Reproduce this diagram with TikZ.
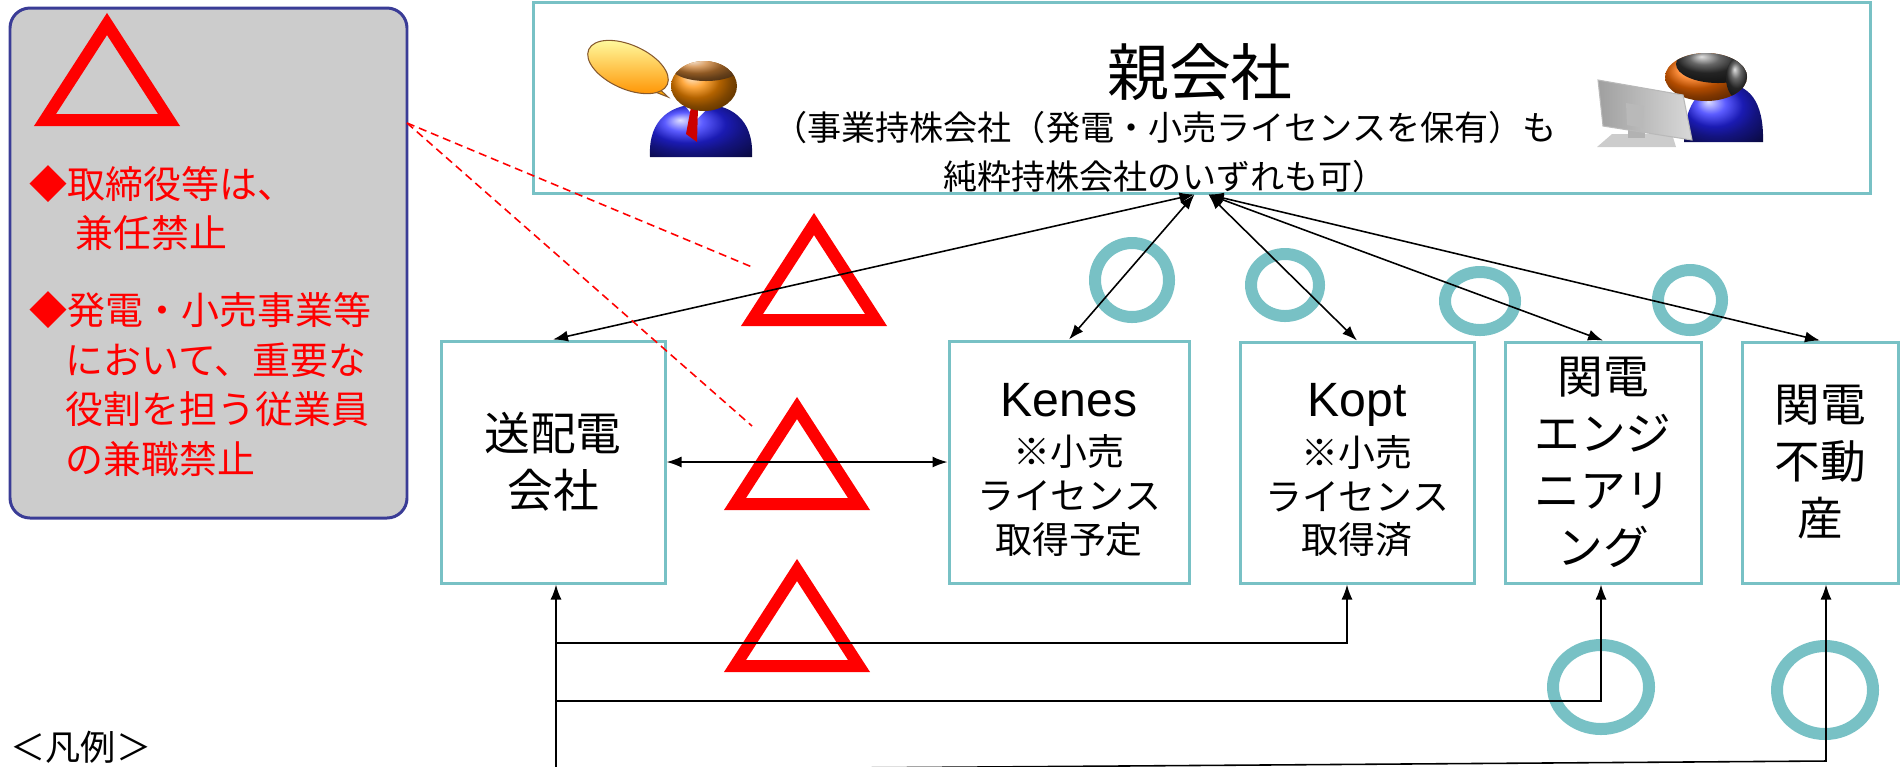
\documentclass[tikz,border=0pt]{standalone}
\usepackage{fontspec}
\setmainfont{Noto Sans CJK JP}
\newfontfamily\latinfont{Liberation Sans}
\usetikzlibrary{arrows.meta}

\definecolor{boxteal}{RGB}{120,193,197}
\definecolor{legendgray}{RGB}{204,204,204}
\definecolor{legendblue}{RGB}{58,60,150}

% red warning triangle, given by the middle of its base
\newcommand{\warnmark}[1]{\draw[warn tri,shift={#1}] (0,-102) -- (62,-6) -- (-62,-6) -- cycle;}
% first line of a licence box, a little roomier on top
\newcommand{\licname}[1]{{\latinfont\fontsize{13.7pt}{16pt}\selectfont\rule{0pt}{14pt}#1}}

\begin{document}
\begin{tikzpicture}[x=0.1mm,y=-0.1mm,>=Latex,
firm box/.style={draw=boxteal,line width=0.85pt,align=center,inner sep=0pt,font=\fontsize{13pt}{16.2pt}\selectfont},
lic box/.style={firm box,font=\fontsize{10.5pt}{12.5pt}\selectfont},
link/.style={{Latex[length=1.5mm,width=1.1mm]}-{Latex[length=1.5mm,width=1.1mm]},line width=0.45pt},
feed/.style={-{Latex[length=1.5mm,width=1.1mm]},line width=0.45pt},
warn tri/.style={draw=red,line width=1.2mm,line join=miter},
ok ring/.style={draw=boxteal,line width=1.2mm},
pointer/.style={draw=red,dash pattern=on 0.8mm off 0.5mm,line width=0.45pt},
rule text/.style={text=red,align=left,inner sep=0pt,anchor=west,font=\fontsize{10.8pt}{14.2pt}\selectfont}]
\useasboundingbox (0,0) rectangle (1901,766);

% legend panel
\node[draw=legendblue,fill=legendgray,line width=0.85pt,rounded corners=2mm,minimum width=39.7mm,minimum height=51mm,inner sep=0pt] (legend) at (208.5,263) {};
\warnmark{(107,126)}
\node[rule text] (rule1) at (29,208) {◆取締役等は、\\\hspace*{1.2em}兼任禁止};
\node[rule text] (rule2) at (29,384) {◆発電・小売事業等\\\hspace*{0.95em}において、重要な\\\hspace*{0.95em}役割を担う従業員\\\hspace*{0.95em}の兼職禁止};
\node[anchor=west,inner sep=0pt,font=\fontsize{10pt}{12pt}\selectfont] (hanrei) at (10,747) {＜凡例＞};

% marks on the links
\warnmark{(814,326)}
\warnmark{(797,510)}
\warnmark{(797,672)}
\draw[ok ring] (1132,280) ellipse [x radius=3.7mm,y radius=3.7mm];
\draw[ok ring] (1285,285) ellipse [x radius=3.4mm,y radius=3.1mm];
\draw[ok ring] (1480,301) ellipse [x radius=3.5mm,y radius=2.9mm];
\draw[ok ring] (1690,300) ellipse [x radius=3.2mm,y radius=3.0mm];
\draw[ok ring] (1601,687) ellipse [x radius=4.8mm,y radius=4.2mm];
\draw[ok ring] (1825,690) ellipse [x radius=4.8mm,y radius=4.4mm];

% holding company
\node[firm box,minimum width=133.7mm,minimum height=19.1mm] (oya) at (1201.5,97.5) {};
\node[font=\fontsize{17.6pt}{20pt}\selectfont] (oyaname) at (1200,72) {親会社};
\node[align=center,font=\fontsize{9.7pt}{14.2pt}\selectfont] (oyanote) at (1165,152) {（事業持株会社（発電・小売ライセンスを保有）も\\純粋持株会社のいずれも可）};

% person with speech bubble
\fill[orange!70!yellow,draw=brown!70!black,line width=0.3pt] (650,80) -- (668,97) -- (640,86) -- cycle;
\shade[top color=yellow!35!white,bottom color=orange!85!yellow,draw=brown!70!black,line width=0.3pt,rotate around={-24:(628,67)}] (628,67) ellipse [x radius=4.3mm,y radius=2.2mm];
\shade[ball color=blue!85!white] (650,157) .. controls (648,118) and (672,104) .. (701,104) .. controls (730,104) and (754,118) .. (752,157) -- cycle;
\fill[white] (684,104) -- (712,104) -- (696,120) -- cycle;
\fill[red!80!black] (691,107) -- (698,107) -- (697,142) -- (686,134) -- cycle;
\shade[ball color=orange!90!yellow] (704,86) ellipse [x radius=3.3mm,y radius=2.5mm];
\begin{scope}
\clip (704,86) ellipse [x radius=3.3mm,y radius=2.5mm];
\shade[ball color=brown!80!orange] (706,66) ellipse [x radius=3.6mm,y radius=1.5mm];
\end{scope}

% person at a monitor
\shade[ball color=blue!85!white] (1684,142) .. controls (1684,100) and (1704,84) .. (1725,84) .. controls (1748,84) and (1764,100) .. (1763,142) -- cycle;
\shade[ball color=orange!85!red] (1706,77) ellipse [x radius=4.1mm,y radius=2.4mm];
\begin{scope}
\clip (1706,77) ellipse [x radius=4.1mm,y radius=2.4mm];
\shade[ball color=black!80] (1718,64) ellipse [x radius=4.2mm,y radius=1.9mm];
\shade[ball color=black!80] (1740,78) ellipse [x radius=1.4mm,y radius=2.2mm];
\end{scope}
\fill[gray!40] (1612,134) -- (1672,134) -- (1676,147) -- (1597,147) -- cycle;
\fill[gray!60] (1628,108) rectangle (1645,138);
\shade[left color=gray!75,right color=gray!30,draw=gray!55,line width=0.3pt] (1598,80) -- (1683,95) -- (1692,140) -- (1603,126) -- cycle;
\fill[gray!55] (1626,103) -- (1644,106) -- (1643,128) -- (1627,125) -- cycle;

% subsidiaries
\node[firm box,minimum width=22.4mm,minimum height=24.2mm] (soden) at (553,462) {送配電\\会社};
\node[lic box,minimum width=24mm,minimum height=24.2mm] (kenes) at (1069,462) {\licname{Kenes}\\[1.5pt]※小売\\ライセンス\\取得予定};
\node[lic box,minimum width=23.4mm,minimum height=24.1mm] (kopt) at (1357,462.5) {\licname{Kopt}\\[1.5pt]※小売\\ライセンス\\取得済};
\node[firm box,minimum width=19.6mm,minimum height=24.1mm] (kdeng) at (1603,462.5) {関電\\エンジ\\ニアリ\\ング};
\node[firm box,minimum width=15.6mm,minimum height=24.1mm] (kdfudo) at (1820,462.5) {関電\\不動\\産};

% links to the holding company
\draw[link] ([xshift=-0.7mm]oya.south) -- (soden.north);
\draw[link] ([xshift=-0.7mm]oya.south) -- (kenes.north);
\draw[link] ([xshift=0.7mm]oya.south) -- (kopt.north);
\draw[link] ([xshift=0.7mm]oya.south) -- (kdeng.north);
\draw[link] ([xshift=0.7mm]oya.south) -- (kdfudo.north);
\draw[link] (soden.east) -- (kenes.west);

% red pointers from the legend
\coordinate (ptr) at (407,123);
\coordinate (ptra) at (752,267);
\coordinate (ptrb) at (752,426);
\draw[pointer] (ptr) -- (ptra);
\draw[pointer] (ptr) -- (ptrb);

% lines from the grid company below
\coordinate (trunk) at (556,770);
\coordinate (j1) at (556,643);
\coordinate (j2) at (556,701);
\coordinate (k3) at (1826,761);
\draw[feed] (trunk) -- (trunk |- soden.south);
\draw[feed] (j1) -| ([xshift=-1mm]kopt.south);
\draw[feed] (j2) -| ([xshift=-0.2mm]kdeng.south);
\draw[feed] (trunk) -- (k3) -- (kdfudo.south -| k3);
\end{tikzpicture}
\end{document}
